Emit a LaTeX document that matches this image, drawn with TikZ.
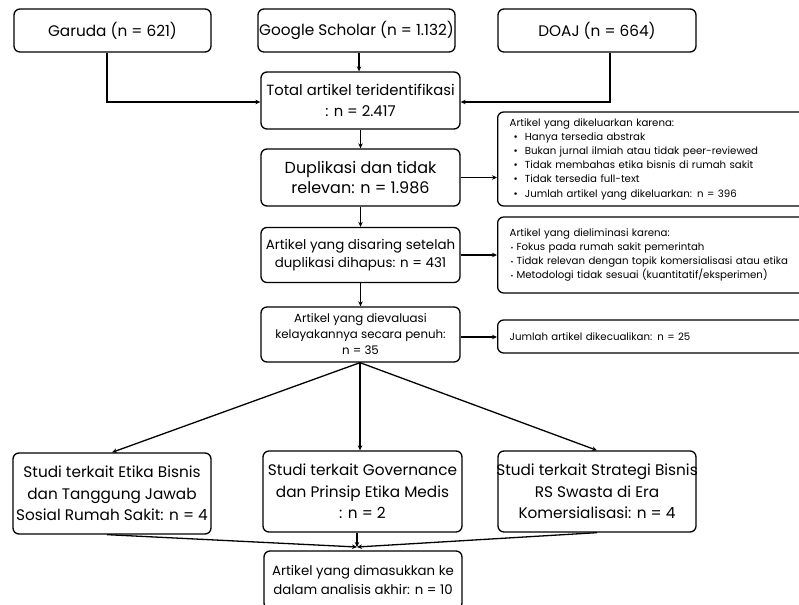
\documentclass[tikz,border=0pt]{standalone}
\usepackage{fontspec}
\setmainfont{Poppins}
\usetikzlibrary{arrows.meta}
\begin{document}
\begin{tikzpicture}[x=1pt,y=-1pt,
  box/.style={draw, line width=1.3pt, rounded corners=6pt, align=center, inner sep=0pt},
  side/.style={draw, line width=1.3pt, rounded corners=6pt, align=left, inner xsep=12pt, inner ysep=0pt,
     text width=300pt, anchor=west, font=\fontsize{10.2}{14.2}\selectfont},
  arr/.style={line width=1.3pt, -{Stealth[length=5pt,width=4.5pt]}},
  ln/.style={line width=1.3pt}]
\useasboundingbox (0,0) rectangle (799,604);
% sources
\node[box, minimum width=197pt, minimum height=43pt, font=\fontsize{15.3}{18}\selectfont] (garuda) at (112.5,30.5) {Garuda (n = 621)};
\node[box, minimum width=197pt, minimum height=43pt, font=\fontsize{15.3}{18}\selectfont] (scholar) at (356.5,30.5) {\makebox[190pt]{Google Scholar (n = 1.132)}};
\node[box, minimum width=198pt, minimum height=43pt, font=\fontsize{15.3}{18}\selectfont] (doaj) at (597,30.5) {DOAJ (n = 664)};
% main column
\node[box, minimum width=199pt, minimum height=57pt, font=\fontsize{14.8}{21}\selectfont] (total) at (360.5,100.5) {\makebox[190pt]{Total artikel teridentifikasi}\\: n = 2.417};
\node[box, minimum width=199pt, minimum height=57pt, font=\fontsize{16}{20}\selectfont] (dup) at (360.5,177.5) {Duplikasi dan tidak\\relevan: n = 1.986};
\node[box, minimum width=199pt, minimum height=55pt, font=\fontsize{13.4}{18}\selectfont] (dis) at (360.5,255) {\makebox[190pt]{Artikel yang disaring setelah}\\duplikasi dihapus: n = 431};
\node[box, minimum width=199pt, minimum height=55pt, font=\fontsize{11.8}{16}\selectfont] (eval) at (360.5,334.5) {Artikel yang dievaluasi\\kelayakannya secara penuh:\\n = 35};
% side boxes
\node[side, minimum height=94pt] (r1) at (497,159) {Artikel yang dikeluarkan karena:\\
\hspace*{4pt}\textbullet\hspace{7pt}Hanya tersedia abstrak\\
\hspace*{4pt}\textbullet\hspace{7pt}Bukan jurnal ilmiah atau tidak peer-reviewed\\
\hspace*{4pt}\textbullet\hspace{7pt}Tidak membahas etika bisnis di rumah sakit\\
\hspace*{4pt}\textbullet\hspace{7pt}Tidak tersedia full-text\\
\hspace*{4pt}\textbullet\hspace{7pt}Jumlah artikel yang dikeluarkan: n = 396};
\node[side, minimum height=76pt] (r2) at (497,255) {Artikel yang dieliminasi karena:\\
\hspace*{1pt}{\fontsize{7}{7}\selectfont\textbullet}\hspace{3pt}Fokus pada rumah sakit pemerintah\\
\hspace*{1pt}{\fontsize{7}{7}\selectfont\textbullet}\hspace{3pt}Tidak relevan dengan topik komersialisasi atau etika\\
\hspace*{1pt}{\fontsize{7}{7}\selectfont\textbullet}\hspace{3pt}Metodologi tidak sesuai (kuantitatif/eksperimen)};
\node[side, minimum height=33pt] (r3) at (497,336.5) {Jumlah artikel dikecualikan: n = 25};
% studies
\node[box, minimum width=198pt, minimum height=81pt, font=\fontsize{15.3}{21.5}\selectfont] (s1) at (112,493.5) {Studi terkait Etika Bisnis\\dan Tanggung Jawab\\Sosial Rumah Sakit: n = 4};
\node[box, minimum width=199pt, minimum height=81pt, font=\fontsize{15.3}{21.5}\selectfont] (s2) at (362.5,491.5) {Studi terkait Governance\\dan Prinsip Etika Medis\\: n = 2};
\node[box, minimum width=198pt, minimum height=81pt, font=\fontsize{15.3}{21.5}\selectfont] (s3) at (597,491.5) {\makebox[190pt]{Studi terkait Strategi Bisnis}\\RS Swasta di Era\\Komersialisasi: n = 4};
\node[box, minimum width=198pt, minimum height=58pt, font=\fontsize{13.3}{19}\selectfont] (final) at (363,580) {Artikel yang dimasukkan ke\\dalam analisis akhir: n = 10};
% connectors
\draw[arr] (garuda.south -| 107,0) |- (total.west |- 0,102);
\draw[arr] (doaj.south -| 610,0) |- (total.east |- 0,102);
\draw[arr] (scholar.south -| 359,0) -- (total.north -| 359,0);
\draw[arr] (total) -- (dup);
\draw[arr] (dup) -- (dis);
\draw[arr] (dis) -- (eval);
\draw[arr] (dup.east) -- (r1.west |- dup.east);
\draw[arr] (dis.east) -- (r2.west |- dis.east);
\draw[arr] (eval.east |- 0,337) -- (r3.west |- 0,337);
\coordinate (top) at (360,362);
\draw[arr] (eval.south -| top) -- (s1.north);
\draw[arr] (eval.south -| top) -- (s2.north -| top);
\draw[arr] (eval.south -| top) -- (s3.north);
\coordinate (join) at (357,547);
\draw[arr] (s1.south -| 107,0) -- (join);
\draw[arr] (s2.south -| join) -- (join);
\draw[arr] (s3.south) -- (join);
\end{tikzpicture}
\end{document}
